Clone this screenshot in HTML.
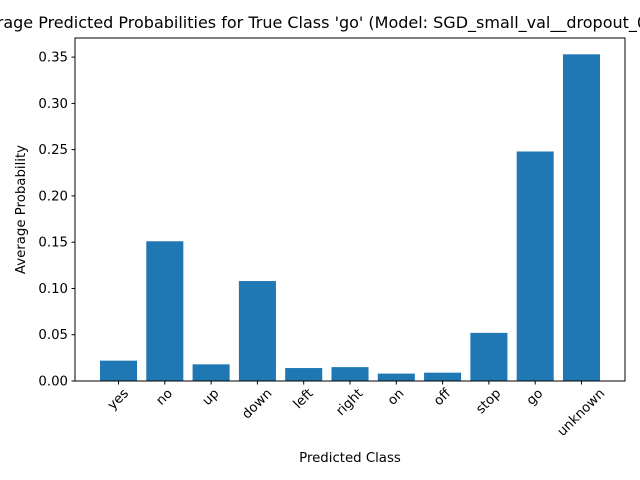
<!DOCTYPE html>
<html><head><meta charset="utf-8"><style>
body{margin:0;background:#fff}
svg{display:block;font-family:"DejaVu Sans","Liberation Sans",sans-serif}
</style></head><body>
<svg id="chart" width="640" height="480" viewBox="0 0 640 480">
<rect width="640" height="480" fill="#fff"/>
<text x="318" y="28" font-size="16" text-anchor="middle" fill="#000">Average Predicted Probabilities for True Class 'go' (Model: SGD_small_val__dropout_0.2)</text>
<g id="bars"></g>
<g id="axes"></g>
<text x="350" y="462" font-size="13.3" text-anchor="middle">Predicted Class</text>
<text transform="translate(25,209.5) rotate(-90)" font-size="13.3" text-anchor="middle">Average Probability</text>
</svg>
<script>
const categories = ["yes","no","up","down","left","right","on","off","stop","go","unknown"];
const values = [0.022,0.151,0.018,0.108,0.014,0.015,0.008,0.009,0.052,0.248,0.353];
const yTicks = [0,0.05,0.10,0.15,0.20,0.25,0.30,0.35];
const yTickLabels = ["0.00","0.05","0.10","0.15","0.20","0.25","0.30","0.35"];

const L=75,R=625,T=38,B=381;
const n=categories.length;
const xmin=-0.4-0.05*(n-0.2), xmax=n-1+0.4+0.05*(n-0.2);
const ymax=Math.max(...values)*1.05;
const x=v=>L+(v-xmin)/(xmax-xmin)*(R-L);
const y=v=>B-v/ymax*(B-T);
const NS="http://www.w3.org/2000/svg";
const bars=document.getElementById('bars'), axes=document.getElementById('axes');
function mk(tag,attrs,parent){const e=document.createElementNS(NS,tag);for(const k in attrs)e.setAttribute(k,attrs[k]);parent.appendChild(e);return e;}
values.forEach((v,i)=>{
  const r=mk('rect',{x:x(i-0.4),y:y(v),width:x(i+0.4)-x(i-0.4),height:B-y(v),fill:'#1f77b4'},bars);
  
  
});
const frame=mk('rect',{x:L,y:T,width:R-L,height:B-T,fill:'none',stroke:'#000','stroke-width':1},axes);


yTicks.forEach((t,i)=>{
  const yy=y(t);
  const tk=mk('line',{x1:L-3.5,x2:L,y1:yy,y2:yy,stroke:'#000'},axes);
  
  
  const tl=mk('text',{x:L-7,y:yy+4.5,'font-size':13.3,'text-anchor':'end'},axes);
  tl.textContent=yTickLabels[i];
  
  
});
categories.forEach((c,i)=>{
  const xx=x(i);
  const tk=mk('line',{x1:xx,x2:xx,y1:B,y2:B+3.5,stroke:'#000'},axes);
  
  
  const tl=mk('text',{x:0,y:0,'font-size':13.3,'text-anchor':'middle','dominant-baseline':'central'},axes);
  tl.textContent=c;
  
  
  const w=tl.getComputedTextLength();
  const h=(w+13)*0.7071;
  tl.setAttribute('transform','translate('+xx+','+(B+6+h/2)+') rotate(-45)');
});
</script>
</body></html>
